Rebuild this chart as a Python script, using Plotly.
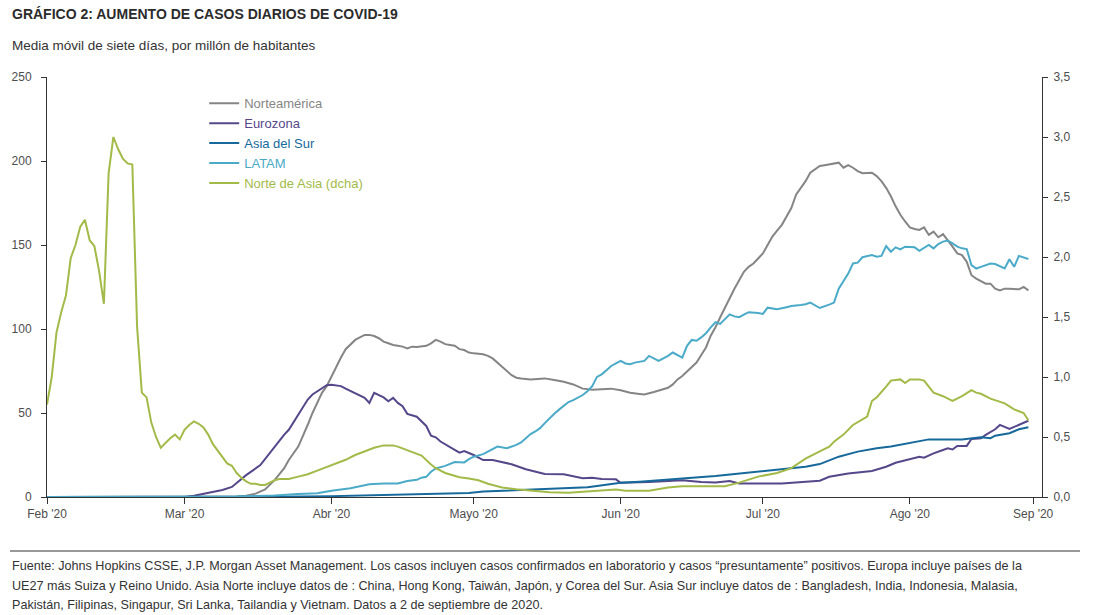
import plotly.graph_objects as go

# ---------------- data ----------------
x_tick_dates = ["2020-02-01", "2020-03-01", "2020-04-01", "2020-05-01", "2020-06-01",
                "2020-07-01", "2020-08-01", "2020-08-27"]
x_tick_labels = ["Feb '20", "Mar '20", "Abr '20", "Mayo '20", "Jun '20", "Jul '20", "Ago '20", "Sep '20"]

na_dates = ["02-01", "03-12", "03-14", "03-16", "03-18", "03-19", "03-20", "03-22", "03-23", "03-25",
            "03-26", "03-27", "03-28", "03-29", "03-30", "03-31", "04-01", "04-02", "04-03", "04-04",
            "04-05", "04-06", "04-07", "04-08", "04-09", "04-10", "04-11", "04-12", "04-13", "04-14",
            "04-15", "04-16", "04-17", "04-18", "04-19", "04-20", "04-21", "04-22", "04-23", "04-24",
            "04-25", "04-26", "04-27", "04-28", "04-29", "04-30", "05-01", "05-03", "05-04", "05-05",
            "05-06", "05-07", "05-08", "05-09", "05-10", "05-11", "05-13", "05-15", "05-16", "05-18",
            "05-20", "05-22", "05-24", "05-26", "05-28", "05-30", "06-01", "06-03", "06-05", "06-06",
            "06-08", "06-10", "06-11", "06-12", "06-13", "06-14", "06-15", "06-16", "06-17", "06-18",
            "06-19", "06-20", "06-21", "06-22", "06-23", "06-24", "06-25", "06-26", "06-27", "06-28",
            "06-29", "06-30", "07-01", "07-02", "07-03", "07-04", "07-05", "07-06", "07-07", "07-08",
            "07-09", "07-10", "07-11", "07-12", "07-13", "07-14", "07-15", "07-16", "07-17", "07-18",
            "07-19", "07-20", "07-21", "07-22", "07-23", "07-24", "07-25", "07-26", "07-27", "07-28",
            "07-29", "07-30", "07-31", "08-01", "08-02", "08-03", "08-04", "08-05", "08-06", "08-07",
            "08-08", "08-09", "08-10", "08-11", "08-12", "08-13", "08-14", "08-15", "08-16", "08-17",
            "08-18", "08-19", "08-20", "08-21", "08-22", "08-23", "08-24", "08-25", "08-26"]
na_values = [0, 0.3, 0.8, 2, 4.5, 7, 10, 17, 22, 30,
             36, 43, 50, 56, 62, 66, 72, 78, 83, 88,
             91, 93.5, 95, 96.5, 96.5, 95.8, 94.5, 92.5, 91.5, 90.5,
             90, 89.5, 88.5, 89.5, 89.3, 89.5, 90, 91.5, 93.5, 92.5,
             91, 90.5, 90, 88, 87.5, 86, 85.5, 85, 84, 82.5,
             80, 77, 74.5, 72.5, 71, 70.5, 70, 70.3, 70.6, 69.6,
             68.6, 67, 64.5, 63.8, 64, 64.5, 63.5, 62, 61.3, 61,
             62.5, 64, 65, 67, 70, 72, 74.5, 77, 80, 84.5,
             89, 96, 101, 107, 113, 118.5, 124, 129, 134, 137,
             139, 142, 145, 150, 155, 158.5, 162, 167, 172, 180,
             184, 188, 193, 195, 197, 197.5, 198, 198.5, 199, 196,
             197.6, 196, 194, 192.7, 193, 193, 191, 188, 184, 179,
             173, 168, 164, 160.5, 159.5, 159, 160.5, 156, 158, 154.6,
             156.5, 153, 149, 145, 144, 140, 132, 130, 128.5, 127,
             127, 124, 123, 124, 124, 123.6, 123.6, 125, 123]

eu_dates = ["02-01", "03-01", "03-03", "03-06", "03-09", "03-11", "03-14", "03-17", "03-20", "03-22",
            "03-23", "03-25", "03-27", "03-28", "03-29", "03-31", "04-01", "04-02", "04-03", "04-04",
            "04-06", "04-08", "04-09", "04-10", "04-12", "04-13", "04-14", "04-15", "04-16", "04-17",
            "04-19", "04-21", "04-22", "04-23", "04-24", "04-25", "04-26", "04-27", "04-28", "04-29",
            "05-01", "05-03", "05-05", "05-08", "05-09", "05-12", "05-16", "05-20", "05-24", "05-26",
            "05-28", "05-31", "06-01", "06-07", "06-14", "06-18", "06-21", "06-24", "06-26", "07-05",
            "07-09", "07-13", "07-15", "07-19", "07-24", "07-27", "07-29", "07-31", "08-03", "08-04",
            "08-06", "08-08", "08-09", "08-10", "08-11", "08-13", "08-14", "08-16", "08-17", "08-19",
            "08-20", "08-22", "08-24", "08-25", "08-26"]
eu_values = [0, 0, 0.8, 2.6, 4.2, 6, 13, 19, 30, 37,
             40, 49, 58, 61, 63, 66.5, 66.8, 66.5, 66, 64.5,
             61.5, 59, 56, 62, 59.3, 57, 59, 56, 54, 49.5,
             47.8, 42.3, 36.5, 35.5, 33, 31.5, 30, 28, 26.4, 27.3,
             25, 22, 22, 20, 19.5, 16.5, 13.7, 13.6, 11.2, 11.5,
             10.7, 10.5, 8.5, 9, 10, 9, 8.7, 9.5, 8, 8,
             9, 9.7, 12, 14, 15.5, 18, 20.4, 22, 24, 23.4,
             26, 28, 29, 28.3, 30.4, 30.4, 34.5, 35, 37, 40.3,
             42.9, 40.5, 43, 44.2, 45.4]

sa_dates = ["02-01", "03-01", "03-20", "04-01", "04-05", "04-15", "04-20", "04-30", "05-03", "05-08",
            "05-15", "05-20", "05-25", "05-27", "05-30", "06-01", "06-05", "06-08", "06-14", "06-21",
            "06-26", "07-02", "07-06", "07-10", "07-13", "07-17", "07-21", "07-25", "07-28", "07-31",
            "08-05", "08-12", "08-14", "08-16", "08-18", "08-19", "08-22", "08-24", "08-26"]
sa_values = [0, 0, 0.2, 0.5, 0.8, 1.3, 1.8, 2.4, 3.2, 3.8,
             4.3, 4.9, 5.8, 6.5, 7.5, 8.5, 9.1, 9.6, 11, 12.5,
             14, 15.7, 17, 18, 19.6, 24, 27, 29, 30, 31.5,
             34.3, 34.3, 35, 35.5, 35, 36.5, 38, 40.3, 41.5]

la_dates = ["02-01", "03-09", "03-12", "03-16", "03-20", "03-25", "03-29", "04-01", "04-05", "04-09",
            "04-12", "04-15", "04-17", "04-19", "04-20", "04-21", "04-22", "04-23", "04-24", "04-25",
            "04-27", "04-29", "04-30", "05-01", "05-03", "05-04", "05-06", "05-08", "05-10", "05-11",
            "05-12", "05-13", "05-14", "05-15", "05-16", "05-17", "05-18", "05-19", "05-20", "05-21",
            "05-22", "05-23", "05-24", "05-25", "05-26", "05-27", "05-28", "05-29", "05-30", "05-31",
            "06-01", "06-02", "06-03", "06-04", "06-06", "06-07", "06-09", "06-11", "06-12", "06-14",
            "06-15", "06-16", "06-17", "06-18", "06-19", "06-20", "06-21", "06-22", "06-23", "06-24",
            "06-25", "06-26", "06-27", "06-28", "06-30", "07-01", "07-02", "07-03", "07-04", "07-06",
            "07-07", "07-09", "07-10", "07-11", "07-12", "07-13", "07-15", "07-16", "07-17", "07-18",
            "07-19", "07-20", "07-21", "07-22", "07-23", "07-24", "07-25", "07-26", "07-27", "07-28",
            "07-29", "07-30", "07-31", "08-01", "08-02", "08-03", "08-04", "08-05", "08-06", "08-07",
            "08-08", "08-09", "08-10", "08-11", "08-12", "08-13", "08-14", "08-15", "08-16", "08-18",
            "08-19", "08-20", "08-21", "08-22", "08-23", "08-24", "08-26"]
la_values = [0, 0, 0.3, 0.6, 0.9, 1.8, 2.3, 3.7, 5.2, 7.6,
             8.1, 8.1, 9.5, 10.2, 11.5, 12, 15, 17, 17.8, 18.5,
             20.8, 20.6, 22.5, 24, 25.5, 27, 30, 29, 31, 32.5,
             35, 37.5, 39, 41, 44, 47, 49.5, 52, 54.5, 56.5,
             57.7, 59, 60.7, 63, 66, 71.5, 73, 75.5, 78, 79.5,
             81, 79.5, 79, 80, 81, 84, 81, 84, 86, 83,
             90, 93.5, 93, 95, 97.5, 101, 104, 103, 106, 108.7,
             107.5, 107, 108.5, 110, 109.5, 109, 112.7, 112, 111.7, 113,
             113.7, 114.3, 114.7, 115.7, 114, 112.5, 114.5, 115.7, 124, 128.5,
             133, 139, 139.5, 142.7, 143.5, 144, 143, 143.5, 149.4, 146,
             148.6, 147.4, 149, 149, 148.6, 146.5, 148.5, 150, 148, 150.6,
             152, 152.6, 151, 149, 148, 147.6, 138, 136, 137, 139,
             138.7, 137.5, 136, 141.5, 137, 143.5, 141.7]

nas_dates = ["02-01", "02-02", "02-03", "02-04", "02-05", "02-06", "02-07", "02-08", "02-09", "02-10",
             "02-11", "02-12", "02-13", "02-14", "02-15", "02-16", "02-17", "02-18", "02-19", "02-20",
             "02-21", "02-22", "02-23", "02-24", "02-25", "02-26", "02-27", "02-28", "02-29", "03-01",
             "03-02", "03-03", "03-04", "03-05", "03-06", "03-07", "03-08", "03-09", "03-10", "03-11",
             "03-12", "03-13", "03-14", "03-15", "03-16", "03-17", "03-18", "03-19", "03-20", "03-21",
             "03-23", "03-25", "03-27", "03-29", "03-31", "04-02", "04-04", "04-06", "04-08", "04-10",
             "04-12", "04-14", "04-15", "04-17", "04-19", "04-20", "04-22", "04-23", "04-25", "04-28",
             "04-30", "05-02", "05-04", "05-07", "05-10", "05-14", "05-17", "05-21", "05-25", "05-29",
             "05-31", "06-02", "06-07", "06-11", "06-14", "06-23", "06-26", "06-30", "07-04", "07-07",
             "07-10", "07-13", "07-15", "07-16", "07-18", "07-20", "07-23", "07-24", "07-25", "07-27",
             "07-28", "07-30", "07-31", "08-01", "08-03", "08-04", "08-06", "08-08", "08-10", "08-12",
             "08-14", "08-15", "08-16", "08-18", "08-21", "08-23", "08-25", "08-26"]
nas_values = [0.77, 1.00, 1.37, 1.54, 1.68, 1.99, 2.10, 2.25, 2.31, 2.14,
              2.09, 1.88, 1.61, 2.70, 3.00, 2.90, 2.82, 2.78, 2.77, 1.42,
              0.87, 0.83, 0.62, 0.50, 0.41, 0.45, 0.49, 0.52, 0.48, 0.56,
              0.60, 0.63, 0.61, 0.58, 0.52, 0.44, 0.39, 0.33, 0.28, 0.26,
              0.20, 0.16, 0.13, 0.11, 0.11, 0.10, 0.10, 0.12, 0.14, 0.15,
              0.15, 0.17, 0.19, 0.22, 0.25, 0.28, 0.31, 0.35, 0.38, 0.41,
              0.43, 0.43, 0.42, 0.39, 0.36, 0.345, 0.27, 0.24, 0.20, 0.165,
              0.155, 0.14, 0.11, 0.08, 0.064, 0.053, 0.04, 0.036, 0.045, 0.06,
              0.063, 0.053, 0.053, 0.08, 0.09, 0.09, 0.12, 0.17, 0.20, 0.24,
              0.32, 0.38, 0.42, 0.46, 0.52, 0.60, 0.67, 0.80, 0.83, 0.92,
              0.97, 0.98, 0.95, 0.98, 0.98, 0.97, 0.87, 0.84, 0.80, 0.84,
              0.89, 0.87, 0.86, 0.82, 0.78, 0.73, 0.70, 0.64]

series_names = ["Norteamérica", "Eurozona", "Asia del Sur", "LATAM", "Norte de Asia (dcha)"]
series_colors = ["#858585", "#55478a", "#16699a", "#4aaac8", "#a2ba48"]

left_ticks = [0, 50, 100, 150, 200, 250]
right_ticks = [0, 0.5, 1, 1.5, 2, 2.5, 3, 3.5]

title_text = "GRÁFICO 2: AUMENTO DE CASOS DIARIOS DE COVID-19"
subtitle_text = "Media móvil de siete días, por millón de habitantes"
footer_lines = [
    "Fuente: Johns Hopkins CSSE, J.P. Morgan Asset Management. Los casos incluyen casos confirmados en laboratorio y casos “presuntamente” positivos. Europa incluye países de la",
    "UE27 más Suiza y Reino Unido. Asia Norte incluye datos de : China, Hong Kong, Taiwán, Japón, y Corea del Sur. Asia Sur incluye datos de : Bangladesh, India, Indonesia, Malasia,",
    "Pakistán, Filipinas, Singapur, Sri Lanka, Tailandia y Vietnam. Datos a 2 de septiembre de 2020.",
]

# ---------------- figure ----------------
W, H = 1094, 615
L, R, T, B = 47, 52, 77, 118
PW, PH = W - L - R, H - T - B
FONT = "Liberation Sans, Arial, sans-serif"
AX = "#333333"
TICK = dict(size=12, color="#4d4d4d", family=FONT)


def full(dates):
    return ["2020-" + d for d in dates]


def px_x(xp):
    return (xp - L) / PW


def px_y(yp):
    return (H - B - yp) / PH


all_dates = [na_dates, eu_dates, sa_dates, la_dates, nas_dates]
all_values = [na_values, eu_values, sa_values, la_values, nas_values]

fig = go.Figure()
for i, (nm, col) in enumerate(zip(series_names, series_colors)):
    fig.add_trace(go.Scatter(
        x=full(all_dates[i]), y=all_values[i], mode="lines",
        name=f"<span style='color:{col}'>{nm}</span>",
        line=dict(color=col, width=2),
        yaxis="y2" if i == 4 else "y",
    ))

fig.update_layout(
    width=W, height=H,
    margin=dict(l=L, r=R, t=T, b=B, pad=0),
    paper_bgcolor="white", plot_bgcolor="white",
    font=dict(family=FONT, size=12, color="#444444"),
    separators=",.",
    showlegend=True,
    legend=dict(x=0.158, y=0.973, xanchor="left", yanchor="top",
                bgcolor="rgba(0,0,0,0)", borderwidth=0,
                font=dict(size=13, family=FONT), tracegroupgap=0,
                itemwidth=30),
    xaxis=dict(type="date", range=["2020-02-01", "2020-08-28 21:00"],
               tickmode="array", tickvals=x_tick_dates, ticktext=x_tick_labels,
               showgrid=False, zeroline=False, showline=True, linecolor=AX, linewidth=1,
               ticks="outside", ticklen=6, tickcolor=AX, tickwidth=1,
               tickfont=TICK),
    yaxis=dict(range=[0, 250], tickmode="array", tickvals=left_ticks,
               showgrid=False, zeroline=False, showline=True, linecolor=AX, linewidth=1,
               ticks="outside", ticklen=5, tickcolor=AX, ticklabelstandoff=7,
               tickfont=TICK),
    yaxis2=dict(range=[0, 3.5], overlaying="y", side="right", tickmode="array",
                tickvals=right_ticks, tickformat=".1f",
                showgrid=False, zeroline=False, showline=True, linecolor=AX, linewidth=1,
                ticks="outside", ticklen=5, tickcolor=AX, ticklabelstandoff=3,
                tickfont=TICK),
)

# title / subtitle
fig.add_annotation(text=f"<b>{title_text}</b>", xref="paper", yref="paper",
                   x=px_x(10), y=px_y(14), xanchor="left", yanchor="middle", showarrow=False,
                   font=dict(family=FONT, size=14, color="#2b2b2b"))
fig.add_annotation(text=subtitle_text, xref="paper", yref="paper",
                   x=px_x(10), y=px_y(45), xanchor="left", yanchor="middle", showarrow=False,
                   font=dict(family=FONT, size=13.5, color="#333333"))

# footer rule + text
fig.add_shape(type="line", xref="paper", yref="paper",
              x0=px_x(10), x1=px_x(1080), y0=px_y(551), y1=px_y(551),
              line=dict(color="#333333", width=1))
for line, ypx in zip(footer_lines, [566, 586, 605]):
    fig.add_annotation(text=line, xref="paper", yref="paper",
                       x=px_x(10), y=px_y(ypx), xanchor="left", yanchor="middle", showarrow=False,
                       font=dict(family=FONT, size=12.6, color="#333333"))

fig.write_html("out.html", config={"displayModeBar": False},
               post_script="document.body.style.margin='0px';")
